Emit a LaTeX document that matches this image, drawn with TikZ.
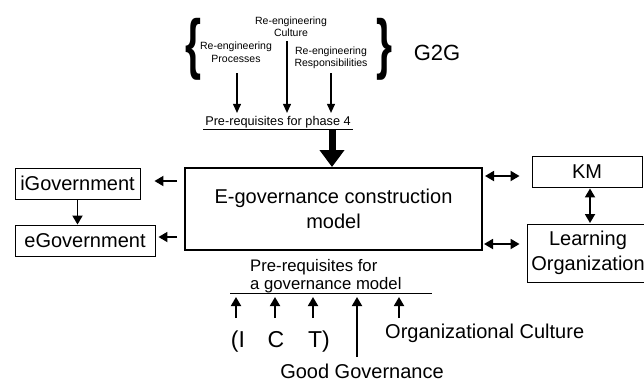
\documentclass[tikz,border=0pt]{standalone}
\usepackage{fontspec}
\setmainfont{Liberation Sans}
\usetikzlibrary{arrows.meta}
\begin{document}
\begin{tikzpicture}[x=1pt,y=-1pt,
  box/.style={draw, line width=0.9pt, inner sep=0pt, align=center, font=\fontsize{20}{25}\selectfont},
  arr/.style={line width=1.1pt, -{Triangle[length=9pt,width=8pt]}},
  uarr/.style={line width=1.8pt, -{Triangle[length=9pt,width=10pt]}},
  darr/.style={line width=1.8pt, {Triangle[length=9pt,width=10pt]}-{Triangle[length=9pt,width=10pt]}},
  bigarr/.style={line width=7pt, -{Triangle[length=17pt,width=24pt]}},
  small/.style={font=\fontsize{10.5}{12.5}\selectfont, align=center, inner sep=0pt},
  big/.style={font=\fontsize{20}{24}\selectfont, inner sep=0pt},
  ict/.style={font=\fontsize{23}{26}\selectfont, inner sep=0pt},
  brace/.style={inner sep=0pt}]
\clip (0,0) rectangle (644,381);
\useasboundingbox (0,0) rectangle (644,381);
% boxes
\node[box, line width=2pt, minimum width=297pt, minimum height=82pt] (main) at (333.5,209) {E-governance construction\\model};
\node[box, minimum width=125pt, minimum height=31pt] (igov) at (77.5,183.5) {iGovernment};
\node[box, minimum width=140pt, minimum height=31pt] (egov) at (85,240.5) {eGovernment};
\node[box, minimum width=110pt, minimum height=31pt] (km) at (587,171.5) {KM};
\node[box, minimum width=122pt, minimum height=58pt] (lo) at (588,253) {Learning\\Organization};
% helper coordinates
\coordinate (y1) at (0,181);
\coordinate (y2) at (0,237);
\coordinate (y3) at (0,176);
\coordinate (y4) at (0,244);
\coordinate (x1) at (590,0);
% side connectors
\draw[uarr, shorten <=7pt, shorten >=14pt] (main.west |- y1) -- (igov.east |- y1);
\draw[uarr, shorten <=7pt, shorten >=3pt] (main.west |- y2) -- (egov.east |- y2);
\draw[uarr] (igov.south) -- (egov.north -| igov.south);
\draw[darr, shorten <=2pt, shorten >=12pt] (main.east |- y3) -- (km.west |- y3);
\draw[darr, shorten <=1pt, shorten >=7pt] (main.east |- y4) -- (lo.west |- y4);
\draw[darr, shorten <=1pt, shorten >=0.5pt] (km.south -| x1) -- (lo.north -| x1);
% top part
\node[brace] (lb) at (193,49) {\resizebox*{16pt}{62pt}{\bfseries\{}};
\node[brace] (rb) at (384,49) {\resizebox*{16pt}{62pt}{\bfseries\}}};
\node[font=\fontsize{22}{24}\selectfont, inner sep=0pt] (g2g) at (437,53) {G2G};
\node[small] (cult) at (291,26.5) {Re-engineering\\Culture};
\node[small] (proc) at (236,52) {Re-engineering\\Processes};
\node[small] (resp) at (331,58) {Re-engineering\\Responsibilities};
\node[font=\fontsize{12.7}{14}\selectfont, inner xsep=2pt, inner ysep=1.5pt] (prq) at (278,122) {Pre-requisites for phase 4};
\draw[line width=0.8pt] (prq.south west) -- (prq.south east);
\coordinate (pa) at (237,73);
\coordinate (ca) at (287,41);
\coordinate (ra) at (331,73);
\coordinate (tk) at (332,0);
\draw[arr, shorten >=1.5pt] (pa) -- (pa |- prq.north);
\draw[arr, shorten >=1.5pt] (ca) -- (ca |- prq.north);
\draw[arr, shorten >=1.5pt] (ra) -- (ra |- prq.north);
\draw[bigarr] (prq.south -| tk) -- (main.north -| tk);
% bottom part
\node[font=\fontsize{16.7}{18}\selectfont, align=left, inner sep=0pt, anchor=west] (pr2) at (250,276) {Pre-requisites for\\a governance model};
\coordinate (ul1) at (230,293);
\coordinate (ul2) at (432,293);
\draw[line width=1pt] (ul1) -- (ul2);
\node[ict, anchor=base] (ti) at (238,347) {(I};
\node[ict, anchor=base] (tc) at (276,347) {C};
\node[ict, anchor=base] (tt) at (319,347) {T)};
\node[big, anchor=base west] (oc) at (385,338) {Organizational Culture};
\node[big, anchor=base] (gg) at (362,378) {Good Governance};
\coordinate (b1) at (236,318);
\coordinate (b2) at (275,318);
\coordinate (b3) at (313,318);
\coordinate (b4) at (357,357);
\coordinate (b5) at (399,318);
\draw[uarr, shorten >=4pt] (b1) -- (b1 |- ul1);
\draw[uarr, shorten >=4pt] (b2) -- (b2 |- ul1);
\draw[uarr, shorten >=4pt] (b3) -- (b3 |- ul1);
\draw[uarr, shorten >=4pt] (b4) -- (b4 |- ul1);
\draw[uarr, shorten >=4pt] (b5) -- (b5 |- ul1);
\end{tikzpicture}
\end{document}
